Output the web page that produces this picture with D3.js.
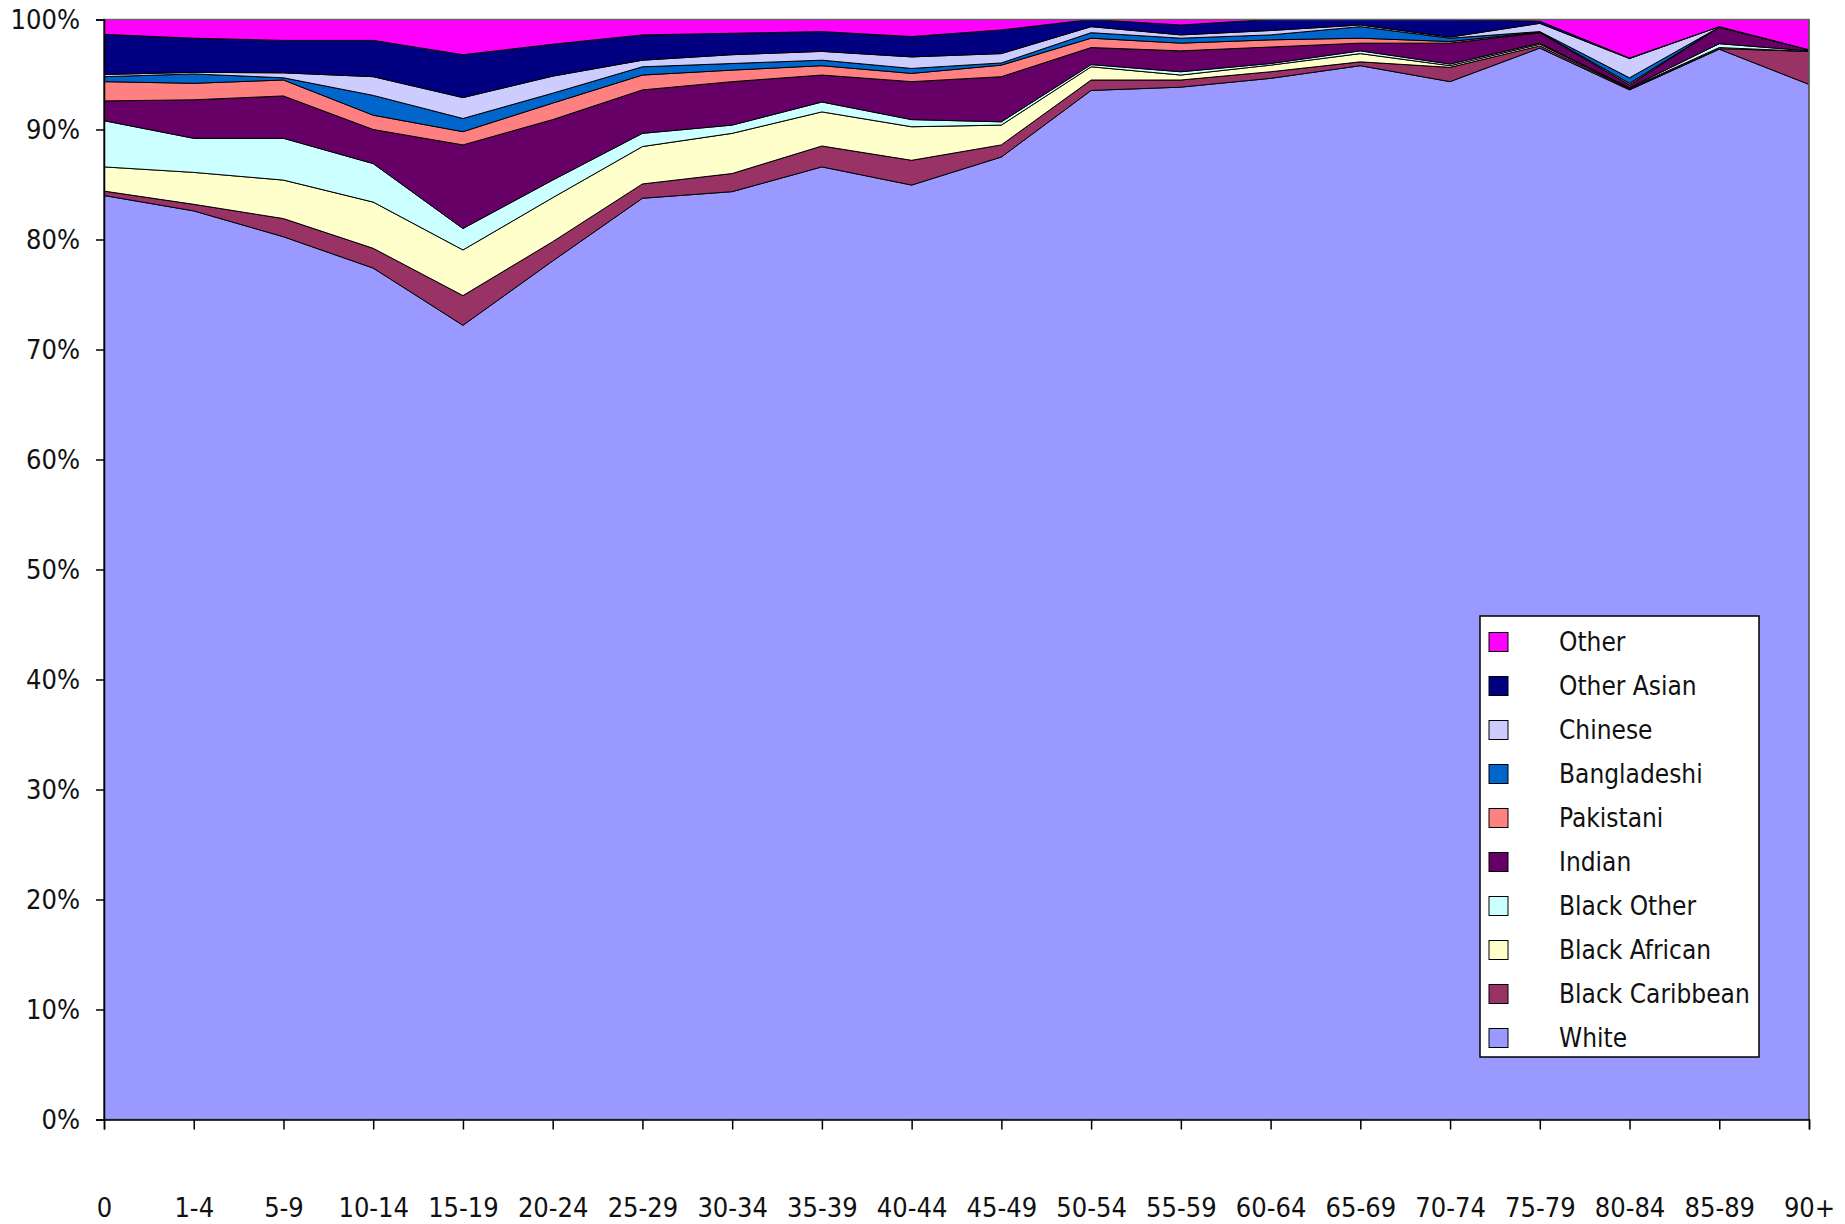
<!DOCTYPE html>
<html>
<head>
<meta charset="utf-8">
<script src="https://cdn.jsdelivr.net/npm/d3@7"></script>
<style>
  body { margin: 0; background: #fff; }
  text { font-family: "DejaVu Sans Condensed", "DejaVu Sans", sans-serif; fill: #111; }
</style>
</head>
<body>
<div id="viz"></div>
<script>
// age bands along the bottom
let ages = ['0', '1-4', '5-9', '10-14', '15-19', '20-24', '25-29', '30-34', '35-39', '40-44',
  '45-49', '50-54', '55-59', '60-64', '65-69', '70-74', '75-79', '80-84', '85-89', '90+']

// share of each age band (%)
let white = [84.0, 82.6, 80.25, 77.4, 72.2, 78.05, 83.75, 84.35, 86.6, 84.95,
  87.5, 93.55, 93.85, 94.65, 95.8, 94.35, 97.4, 93.6, 97.3, 94.1]
let blackCaribbean = [0.4, 0.6, 1.65, 1.8, 2.7, 1.75, 1.3, 1.65, 1.9, 2.25,
  1.1, 0.95, 0.65, 0.6, 0.35, 1.3, 0.2, 0.1, 0.05, 3.0]
let blackAfrican = [2.2, 2.9, 3.5, 4.2, 4.15, 4.0, 3.4, 3.65, 3.1, 3.05,
  1.8, 1.2, 0.45, 0.6, 0.75, 0.15, 0.15, 0.05, 0.1, 0]
let blackOther = [4.2, 3.1, 3.8, 3.5, 1.95, 1.6, 1.2, 0.75, 0.9, 0.65,
  0.3, 0.2, 0.3, 0.15, 0.25, 0.15, 0.1, 0.05, 0.35, 0.05]
let indian = [1.8, 3.5, 3.85, 3.1, 7.6, 5.5, 3.95, 3.95, 2.45, 3.45,
  4.1, 1.55, 1.9, 1.5, 0.7, 1.9, 0.95, 0.25, 1.5, 0.1]
let pakistani = [1.75, 1.5, 1.45, 1.3, 1.2, 1.5, 1.35, 1.05, 0.85, 0.75,
  1.05, 0.85, 0.7, 0.65, 0.45, 0.15, 0.05, 0.15, 0, 0]
let bangladeshi = [0.45, 0.85, 0.2, 1.8, 1.2, 0.9, 0.75, 0.6, 0.5, 0.45,
  0.2, 0.5, 0.45, 0.45, 1.05, 0.3, 0.05, 0.5, 0, 0]
let chinese = [0.2, 0.15, 0.45, 1.7, 1.9, 1.55, 0.6, 0.8, 0.8, 1.05,
  0.85, 0.55, 0.3, 0.4, 0.15, 0.1, 0.75, 1.75, 0.05, 0]
let otherAsian = [3.65, 3.1, 2.95, 3.3, 3.9, 2.9, 2.3, 1.95, 1.8, 1.85,
  2.15, 0.65, 0.9, 1.0, 0.5, 1.6, 0.2, 0.05, 0, 0]
let other = [1.35, 1.7, 1.9, 1.9, 3.2, 2.25, 1.4, 1.25, 1.1, 1.55,
  0.95, 0, 0.5, 0, 0, 0, 0.15, 3.5, 0.65, 2.75]

let seriesNames = ['White', 'Black Caribbean', 'Black African', 'Black Other', 'Indian',
  'Pakistani', 'Bangladeshi', 'Chinese', 'Other Asian', 'Other']
let seriesValues = [white, blackCaribbean, blackAfrican, blackOther, indian,
  pakistani, bangladeshi, chinese, otherAsian, other]
let seriesColors = ['#9999FF', '#993366', '#FFFFCC', '#CCFFFF', '#660066',
  '#FF8080', '#0066CC', '#CCCCFF', '#000080', '#FF00FF']

let plotLeft = 104, plotRight = 1809, plotTop = 19.5, plotBottom = 1119.5

let svgContainer = d3.select('#viz')
  .append('svg')
  .attr('width', 1845)
  .attr('height', 1224)

// rows for d3.stack
let rows = ages.map((age, i) => {
  let row = { age: age }
  seriesNames.forEach((name, s) => { row[name] = seriesValues[s][i] })
  return row
})

let stacked = d3.stack()
  .keys(seriesNames)
  .offset(d3.stackOffsetExpand)(rows)

let x = d3.scalePoint().domain(ages).range([plotLeft, plotRight])
let y = d3.scaleLinear().domain([0, 1]).range([plotBottom, plotTop])
let color = d3.scaleOrdinal().domain(seriesNames).range(seriesColors)

let area = d3.area()
  .x(d => x(d.data.age))
  .y0(d => y(d[0]))
  .y1(d => y(d[1]))

svgContainer.append('g')
  .selectAll('path')
  .data(stacked)
  .join('path')
  .attr('d', area)
  .attr('fill', d => color(d.key))
  .attr('stroke', '#000')
  .attr('stroke-width', 1)
  .attr('stroke-linejoin', 'round')

// plot frame
svgContainer.append('rect')
  .attr('x', plotLeft)
  .attr('y', plotTop)
  .attr('width', plotRight - plotLeft)
  .attr('height', plotBottom - plotTop)
  .attr('fill', 'none')
  .attr('stroke', '#666')
  .attr('stroke-width', 1.5)

// y axis
let yAxis = svgContainer.append('g')
  .attr('transform', `translate(${plotLeft},0)`)
  .call(d3.axisLeft(y)
    .tickValues(d3.range(0, 11).map(v => v / 10))
    .tickFormat(d3.format('.0%'))
    .tickSize(8)
    .tickPadding(16))
yAxis.selectAll('text').attr('font-size', 27)
yAxis.selectAll('line, path').attr('stroke', '#000').attr('stroke-width', 1.5)

// x axis
let xAxis = svgContainer.append('g')
  .attr('transform', `translate(0,${plotBottom})`)
  .call(d3.axisBottom(x).tickSize(10).tickPadding(68))
xAxis.selectAll('text').attr('font-size', 27)
xAxis.selectAll('line, path').attr('stroke', '#000').attr('stroke-width', 1.5)

// legend
let legend = svgContainer.append('g')
legend.append('rect')
  .attr('x', 1480)
  .attr('y', 616)
  .attr('width', 279)
  .attr('height', 441)
  .attr('fill', '#fff')
  .attr('stroke', '#000')
  .attr('stroke-width', 1.5)

let legendNames = seriesNames.slice().reverse()
let items = legend.selectAll('g.item')
  .data(legendNames)
  .join('g')
  .attr('class', 'item')
  .attr('transform', (d, i) => `translate(1489,${642 + i * 44})`)

items.append('rect')
  .attr('x', 0)
  .attr('y', -9.5)
  .attr('width', 19)
  .attr('height', 19)
  .attr('fill', d => color(d))
  .attr('stroke', '#000')
  .attr('stroke-width', 1)

items.append('text')
  .attr('x', 70)
  .attr('y', 0)
  .attr('dy', '0.35em')
  .attr('font-size', 26)
  .text(d => d)
</script>
</body>
</html>
